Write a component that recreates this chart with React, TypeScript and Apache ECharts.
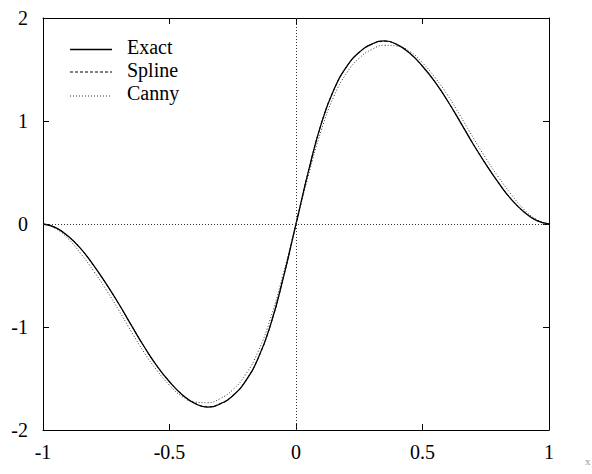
import React, { useEffect, useRef } from "react";
import * as echarts from "echarts";

const xs = [
  -1, -0.95, -0.9, -0.85, -0.8, -0.75, -0.7, -0.65, -0.6, -0.55, -0.5, -0.45, -0.4, -0.35, -0.3, -0.25, -0.2, -0.15, -0.1, -0.05,
  0, 0.05, 0.1, 0.15, 0.2, 0.25, 0.3, 0.35, 0.4, 0.45, 0.5, 0.55, 0.6, 0.65, 0.7, 0.75, 0.8, 0.85, 0.9, 0.95, 1,
];

const exact = [
  0, -0.035, -0.12, -0.242, -0.402, -0.582, -0.777, -0.987, -1.192, -1.377, -1.532, -1.657, -1.742, -1.777, -1.747, -1.667, -1.527, -1.305, -0.975, -0.52,
  0, 0.52, 0.975, 1.305, 1.527, 1.667, 1.747, 1.777, 1.742, 1.657, 1.532, 1.377, 1.192, 0.987, 0.777, 0.582, 0.402, 0.242, 0.12, 0.035, 0,
];

const spline = [
  0, -0.036, -0.121, -0.243, -0.403, -0.583, -0.778, -0.987, -1.191, -1.376, -1.531, -1.656, -1.74, -1.775, -1.746, -1.666, -1.526, -1.304, -0.974, -0.519,
  0, 0.519, 0.974, 1.304, 1.526, 1.666, 1.746, 1.775, 1.74, 1.656, 1.531, 1.376, 1.191, 0.987, 0.778, 0.583, 0.403, 0.243, 0.121, 0.036, 0,
];

const canny = [
  0, -0.045, -0.145, -0.29, -0.456, -0.64, -0.84, -1.048, -1.248, -1.42, -1.565, -1.675, -1.728, -1.735, -1.695, -1.61, -1.465, -1.24, -0.91, -0.48,
  0, 0.48, 0.91, 1.24, 1.465, 1.61, 1.695, 1.735, 1.728, 1.675, 1.565, 1.42, 1.248, 1.048, 0.84, 0.64, 0.456, 0.29, 0.145, 0.045, 0,
];

const seriesNames = ["Exact", "Spline", "Canny"];
const xTicks = [-1, -0.5, 0, 0.5, 1];
const yTicks = [-2, -1, 0, 1, 2];

const FONT = '"Liberation Serif", "Times New Roman", serif';

export default function App() {
  const ref = useRef<HTMLDivElement>(null);

  useEffect(() => {
    if (!ref.current) return;
    const chart = echarts.init(ref.current, null, { renderer: "svg" });
    const pairs = (ys: number[]) => xs.map((x, i) => [x, ys[i]]);
    const axisLine = { show: true, onZero: false, lineStyle: { color: "#000", width: 1 } };
    const axisTick = { show: true, inside: true, length: 6, lineStyle: { color: "#000", width: 1 } };
    const legendStyles = [
      { lineWidth: 1.3, lineDash: null as any, stroke: "#000" },
      { lineWidth: 1, lineDash: [3, 2], stroke: "#000" },
      { lineWidth: 1, lineDash: [1, 2], stroke: "#333" },
    ];
    const legendLineY = [49.5, 72, 96];
    const legendTextY = [47, 70, 93];
    const legendGraphics: any[] = [];
    seriesNames.forEach((name, i) => {
      legendGraphics.push({
        type: "line",
        silent: true,
        shape: { x1: 70, y1: legendLineY[i], x2: 112, y2: legendLineY[i] },
        style: {
          stroke: legendStyles[i].stroke,
          lineWidth: legendStyles[i].lineWidth,
          lineDash: legendStyles[i].lineDash,
        },
      });
      legendGraphics.push({
        type: "text",
        silent: true,
        x: 127,
        y: legendTextY[i],
        style: {
          text: name,
          fontFamily: FONT,
          fontSize: 20,
          fill: "#000",
          verticalAlign: "middle",
          align: "left",
        },
      });
    });
    chart.setOption({
      animation: false,
      backgroundColor: "#fff",
      grid: { left: 43, right: 43, top: 18, bottom: 44, containLabel: false },
      legend: { show: false },
      xAxis: [
        {
          type: "value",
          min: xTicks[0],
          max: xTicks[xTicks.length - 1],
          interval: 0.5,
          position: "bottom",
          axisLine,
          axisTick,
          splitLine: { show: false },
          axisLabel: { margin: 12, fontFamily: FONT, fontSize: 20, color: "#000" },
        },
        {
          type: "value",
          min: xTicks[0],
          max: xTicks[xTicks.length - 1],
          interval: 0.5,
          position: "top",
          axisLine,
          axisTick,
          splitLine: { show: false },
          axisLabel: { show: false },
        },
      ],
      yAxis: [
        {
          type: "value",
          min: yTicks[0],
          max: yTicks[yTicks.length - 1],
          interval: 1,
          position: "left",
          axisLine,
          axisTick,
          splitLine: { show: false },
          axisLabel: { margin: 15, fontFamily: FONT, fontSize: 20, color: "#000" },
        },
        {
          type: "value",
          min: yTicks[0],
          max: yTicks[yTicks.length - 1],
          interval: 1,
          position: "right",
          axisLine,
          axisTick,
          splitLine: { show: false },
          axisLabel: { show: false },
        },
      ],
      series: [
        {
          name: seriesNames[0],
          type: "line",
          data: pairs(exact),
          smooth: 0.5,
          symbol: "none",
          lineStyle: { color: "#000", width: 1.3, type: "solid" },
          itemStyle: { color: "#000" },
          z: 3,
          markLine: {
            silent: true,
            symbol: ["none", "none"],
            label: { show: false },
            lineStyle: { color: "#333", width: 1, type: [1, 2] },
            data: [{ yAxis: 0 }, { xAxis: 0 }],
          },
        },
        {
          name: seriesNames[1],
          type: "line",
          data: pairs(spline),
          smooth: 0.5,
          symbol: "none",
          lineStyle: { color: "#000", width: 1, type: [3, 2] },
          itemStyle: { color: "#000" },
          z: 2,
        },
        {
          name: seriesNames[2],
          type: "line",
          data: pairs(canny),
          smooth: 0.5,
          symbol: "none",
          lineStyle: { color: "#333", width: 1, type: [1, 2] },
          itemStyle: { color: "#333" },
          z: 2,
        },
      ],
      graphic: [
        ...legendGraphics,
        {
          type: "text",
          x: 585,
          y: 455,
          silent: true,
          style: { text: "x", fontFamily: FONT, fontSize: 11, fill: "#999" },
        },
      ],
    });
    return () => chart.dispose();
  }, []);

  return (
    <div
      ref={ref}
      style={{ position: "fixed", left: 0, top: 0, width: 592, height: 474, background: "#fff" }}
    />
  );
}
